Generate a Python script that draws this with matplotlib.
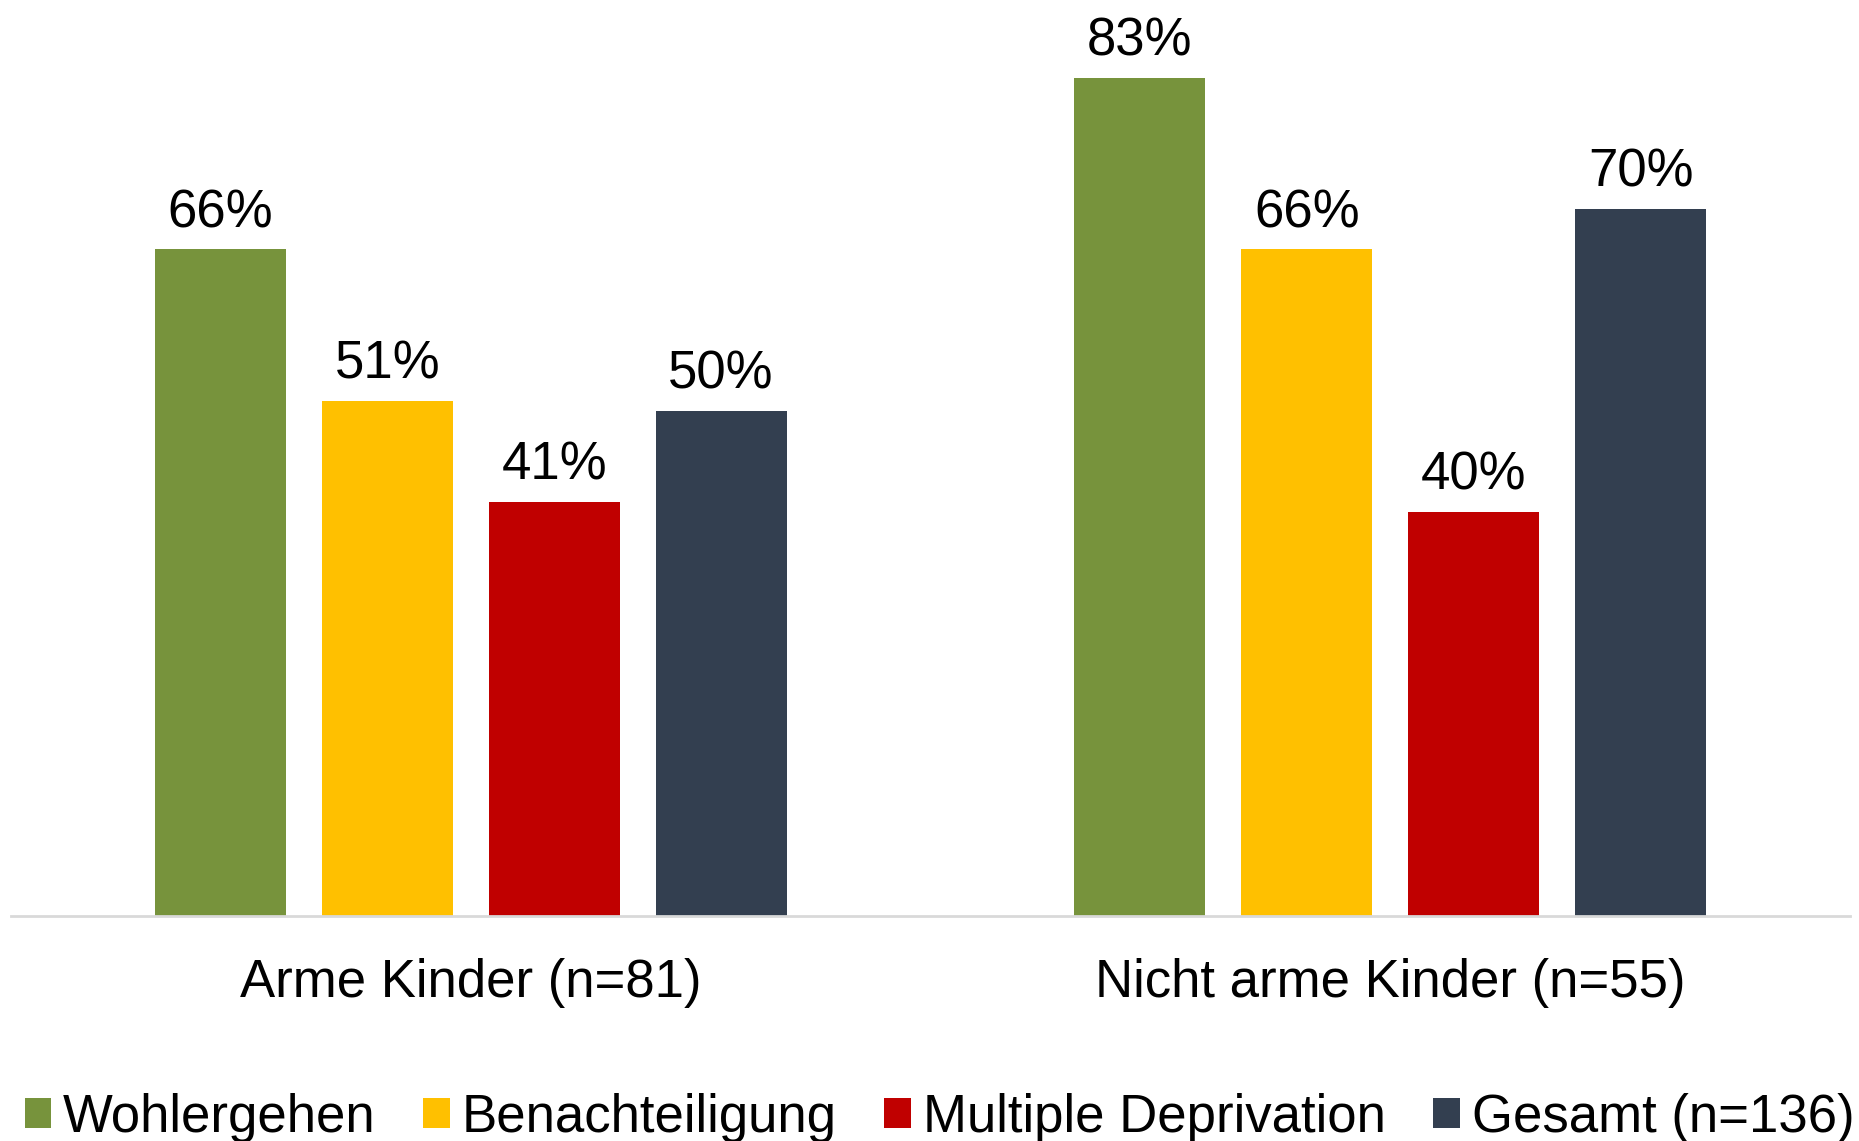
import matplotlib
matplotlib.use("Agg")
import matplotlib.pyplot as plt
import numpy as np

plt.rcParams['font.family'] = ['Liberation Sans', 'DejaVu Sans']

categories = ["Arme Kinder (n=81)", "Nicht arme Kinder (n=55)"]
series = ["Wohlergehen", "Benachteiligung", "Multiple Deprivation", "Gesamt (n=136)"]
values = {
    "Wohlergehen": [0.66, 0.83],
    "Benachteiligung": [0.51, 0.66],
    "Multiple Deprivation": [0.41, 0.40],
    "Gesamt (n=136)": [0.50, 0.70],
}
colors = ["#77933C", "#FFC000", "#C00000", "#333F50"]

W, H = 1859, 1141
fig = plt.figure(figsize=(W / 100, H / 100), dpi=100)
ax = fig.add_axes([11 / W, 1 - 916 / H, (1850 - 11) / W, 909 / H])

x = np.arange(len(categories))
step = 0.1815
width = 0.1424
fs = 38
for i, s in enumerate(series):
    pos = x + (i - 1.5) * step
    bars = ax.bar(pos, values[s], width=width, color=colors[i], label=s, zorder=2)
    for b, v in zip(bars, values[s]):
        ax.annotate(f"{round(v * 100)}%", (b.get_x() + b.get_width() / 2, v),
                    xytext=(0, 8), textcoords="offset points",
                    ha="center", va="bottom", fontsize=fs)

ax.set_xlim(-0.5, 1.5)
ax.set_ylim(0, 0.9)
ax.set_yticks([])
ax.set_xticks(x)
ax.set_xticklabels(categories, fontsize=fs)
ax.tick_params(axis="x", length=0, pad=30)
for sp in ["top", "right", "left"]:
    ax.spines[sp].set_visible(False)
ax.spines["bottom"].set_color("#D9D9D9")
ax.spines["bottom"].set_linewidth(2)

leg = fig.legend(loc="center", bbox_to_anchor=(0.5 + 10 / W, 1 - 1118 / H), ncol=4, frameon=False,
                 fontsize=fs, handlelength=0.5, handleheight=0.5, handletextpad=0.23,
                 columnspacing=0.9)

fig.savefig("out.png", dpi=100)
